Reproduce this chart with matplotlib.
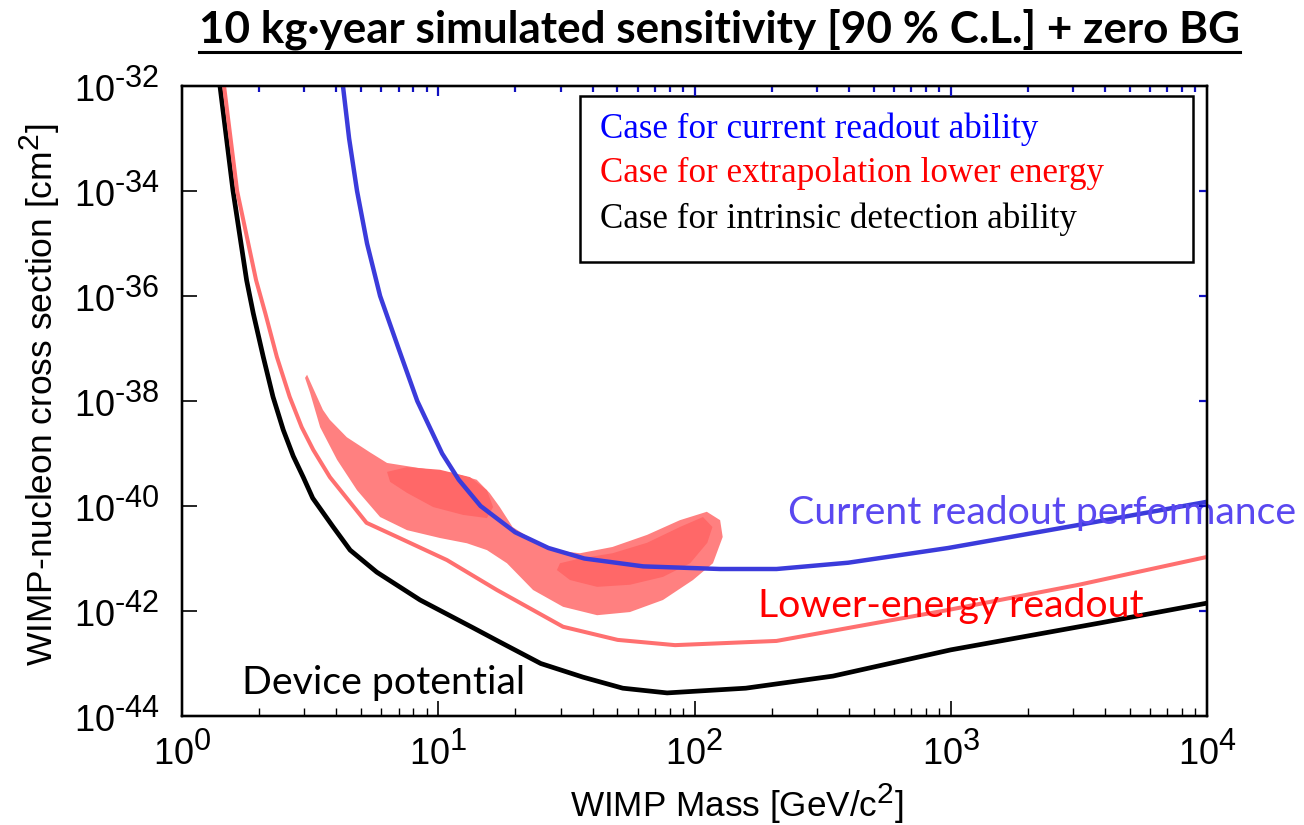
import numpy as np
import matplotlib
matplotlib.use("Agg")
import matplotlib.pyplot as plt
from matplotlib.ticker import NullLocator, NullFormatter
from matplotlib.lines import Line2D
from matplotlib.patches import Rectangle
import matplotlib._mathtext as _mt

# bigger superscripts, like the original figure
_mt.SHRINK_FACTOR = 0.85

plt.rcParams['font.family'] = ['Liberation Sans', 'DejaVu Sans']
plt.rcParams['mathtext.fontset'] = 'custom'
plt.rcParams['mathtext.rm'] = 'Liberation Sans'
plt.rcParams['mathtext.it'] = 'Liberation Sans:italic'
plt.rcParams['mathtext.bf'] = 'Liberation Sans:bold'

# ---- data (log10 of WIMP mass in GeV, log10 of cross section in cm^2) ----
black_logm = [0.148, 0.199, 0.252, 0.278, 0.317, 0.355, 0.395, 0.434, 0.473, 0.51, 0.59, 0.656,
              0.76, 0.929, 1.136, 1.24, 1.40, 1.565, 1.72, 1.893, 2.2, 2.54, 3.0, 3.58, 4.0]
black_logs = [-32, -34, -35.7, -36.33, -37.16, -37.92, -38.55, -39.05, -39.45, -39.85, -40.4, -40.84,
              -41.26, -41.79, -42.32, -42.59, -43.0, -43.26, -43.47, -43.56, -43.47, -43.24, -42.74, -42.23, -41.85]

red_logm = [0.164, 0.215, 0.289, 0.325, 0.37, 0.42, 0.467, 0.512, 0.577, 0.72, 0.84, 1.034,
            1.229, 1.487, 1.70, 1.924, 2.32, 2.99, 3.5, 4.0]
red_logs = [-32, -34, -35.7, -36.33, -37.16, -37.92, -38.5, -38.93, -39.45, -40.32, -40.59, -41.03,
            -41.6, -42.3, -42.55, -42.65, -42.57, -41.98, -41.5, -40.97]

blue_logm = [0.628, 0.652, 0.683, 0.722, 0.773, 0.845, 0.918, 1.015, 1.08, 1.165, 1.30, 1.43,
             1.57, 1.80, 2.1, 2.32, 2.6, 2.99, 3.5, 4.0]
blue_logs = [-32, -33, -34, -35, -36, -37, -38, -39, -39.5, -40, -40.5, -40.8,
             -41.0, -41.15, -41.2, -41.2, -41.08, -40.8, -40.36, -39.92]

# signal region (outer, light) and the two inner cores
outer_logm = [0.488, 0.55, 0.577, 0.643, 0.734, 0.80, 0.929, 1.058, 1.15, 1.20, 1.24, 1.29, 1.37,
              1.448, 1.553, 1.68, 1.815, 1.943, 2.048, 2.1, 2.11, 2.072, 1.994, 1.877, 1.748, 1.62,
              1.487, 1.37, 1.268, 1.19, 1.112, 1.007, 0.878, 0.773, 0.683, 0.605, 0.539, 0.5, 0.48]
outer_logs = [-37.5, -38.17, -38.36, -38.69, -38.98, -39.18, -39.28, -39.37, -39.5, -39.75, -40.02,
              -40.4, -40.65, -40.84, -40.9, -40.78, -40.55, -40.27, -40.11, -40.27, -40.59, -41.09,
              -41.41, -41.79, -42.02, -42.08, -41.92, -41.6, -41.09, -40.84, -40.71, -40.61, -40.46,
              -40.21, -39.7, -39.12, -38.5, -37.85, -37.56]

core1_logm = [0.80, 0.878, 1.007, 1.124, 1.19, 1.214, 1.19, 1.097, 0.98, 0.878, 0.812]
core1_logs = [-39.35, -39.26, -39.31, -39.45, -39.7, -40.02, -40.23, -40.17, -40.02, -39.75, -39.54]

core2_logm = [1.475, 1.553, 1.68, 1.815, 1.943, 2.033, 2.07, 2.05, 1.983, 1.877, 1.748, 1.62, 1.514, 1.463]
core2_logs = [-41.09, -41.0, -40.9, -40.7, -40.4, -40.21, -40.4, -40.7, -41.09, -41.35, -41.5, -41.54,
              -41.41, -41.22]

ytick_exp = [-32, -34, -36, -38, -40, -42, -44]
xtick_exp = [0, 1, 2, 3, 4]

legend_lines = ["Case for current readout ability",
                "Case for extrapolation lower energy",
                "Case for intrinsic detection ability"]
legend_colors = ["#0000ff", "#ff0000", "#000000"]


def p(v):
    return 10.0 ** np.array(v)


def sup(e):
    # short hyphen instead of the long minus sign
    s = str(e).replace("-", "\u2010")
    return r"$\mathregular{10^{%s}}$" % s


fig = plt.figure(figsize=(13.04, 8.25), dpi=100)
ax = fig.add_axes([0.1396, 0.1321, 0.7860, 0.7637])

ax.fill(p(outer_logm), p(outer_logs), color="#ff8080", lw=0, zorder=2)
ax.fill(p(core1_logm), p(core1_logs), color="#ff6868", lw=0, zorder=2)
ax.fill(p(core2_logm), p(core2_logs), color="#ff6868", lw=0, zorder=2)

ax.plot(p(black_logm), p(black_logs), color="black", lw=3.4, solid_joinstyle="round", zorder=3)
ax.plot(p(red_logm), p(red_logs), color="#ff7070", lw=2.9, solid_joinstyle="round", zorder=3)
ax.plot(p(blue_logm), p(blue_logs), color="#3b3bdb", lw=3.2, solid_joinstyle="round", zorder=4)

ax.set_xscale("log")
ax.set_yscale("log")
ax.set_xlim(1, 1e4)
ax.set_ylim(1e-44, 1e-32)

ax.set_yticks(p(ytick_exp))
ax.set_yticklabels([sup(e) for e in ytick_exp])
ax.yaxis.set_minor_locator(NullLocator())
ax.set_xticks(p(xtick_exp))
ax.set_xticklabels([sup(e) for e in xtick_exp])
ax.xaxis.set_minor_formatter(NullFormatter())
ax.tick_params(axis="both", which="major", direction="in", length=11, width=1.2, labelsize=26)
ax.tick_params(axis="x", which="major", pad=12)
ax.tick_params(axis="y", which="major", pad=16)
ax.tick_params(axis="x", which="minor", direction="in", length=6, width=1.0)
for s in ax.spines.values():
    s.set_linewidth(1.6)

# blue ticks on top and right
axt = ax.twiny()
axt.set_xscale("log")
axt.set_xlim(1, 1e4)
axt.set_xticks(p([1, 2, 3]))
axt.set_xticklabels([])
axt.xaxis.set_minor_formatter(NullFormatter())
axt.tick_params(axis="x", which="major", direction="in", length=7, width=1.6, color="#1010c0")
axt.tick_params(axis="x", which="minor", direction="in", length=4, width=1.6, color="#1010c0")

axr = ax.twinx()
axr.set_yscale("log")
axr.set_ylim(1e-44, 1e-32)
axr.set_yticks(p([-34, -36, -38, -40, -42]))
axr.set_yticklabels([])
axr.yaxis.set_minor_locator(NullLocator())
axr.tick_params(axis="y", which="major", direction="in", length=6, width=1.6, color="#1010c0")
for a in (axt, axr):
    for s in a.spines.values():
        s.set_linewidth(1.6)

ax.set_xlabel(r"WIMP Mass [GeV/c$\mathregular{^2}$]", fontsize=25.3)
ax.xaxis.set_label_coords(0.541, -0.103)
ax.set_ylabel(r"WIMP-nucleon cross section [cm$\mathregular{^2}$]", fontsize=25.5)
ax.yaxis.set_label_coords(-0.117, 0.51)

# legend-like box
ax.add_patch(Rectangle((0.388, 0.721), 0.598, 0.263, transform=ax.transAxes, fill=False,
                       ec="black", lw=1.8, zorder=5))
for i, (txt, col) in enumerate(zip(legend_lines, legend_colors)):
    ax.text(0.408, 0.932 - i * 0.0715, txt, transform=ax.transAxes, color=col,
            fontsize=25.2, family="Liberation Serif", va="center", ha="left", zorder=6)

ax.text(0.591, 0.322, "Current readout performance", transform=ax.transAxes, color="#5a48f0",
        fontsize=28.3, family="Lato", va="center", ha="left", clip_on=False, zorder=6)
ax.text(0.562, 0.175, "Lower-energy readout", transform=ax.transAxes, color="#ff0000",
        fontsize=28.3, family="Lato", va="center", ha="left", zorder=6)
ax.text(0.0585, 0.052, "Device potential", transform=ax.transAxes, color="black",
        fontsize=28.3, family="Lato", va="center", ha="left", zorder=6)

title = fig.text(0.552, 0.965, "10 kg\u00b7year simulated sensitivity [90 % C.L.] + zero BG",
                 ha="center", va="center", fontsize=31.7, fontweight="bold", family="Lato")
fig.canvas.draw()
bb = title.get_window_extent()
W, H = fig.bbox.width, fig.bbox.height
fig.add_artist(Line2D([bb.x0 / W, bb.x1 / W], [(bb.y0 - 2) / H, (bb.y0 - 2) / H],
                      transform=fig.transFigure, color="black", lw=2.2))

fig.savefig("out.png", dpi=100)
